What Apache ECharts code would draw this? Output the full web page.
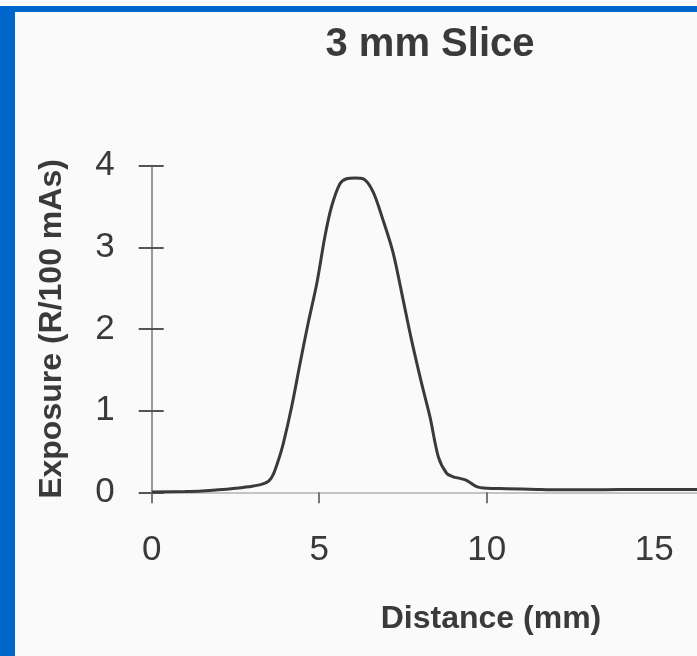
<!DOCTYPE html>
<html>
<head>
<meta charset="utf-8">
<script src="https://cdn.jsdelivr.net/npm/echarts@6/dist/echarts.min.js"></script>
<style>
html,body{margin:0;padding:0;background:#ffffff;}
#c{width:697px;height:656px;}
</style>
</head>
<body>
<div id="c"></div>
<script>
// Data
const distance = [0, 1, 1.5, 2, 2.5, 3, 3.3, 3.5, 3.63, 3.78, 3.93, 4.18, 4.43, 4.67, 4.93, 5.17, 5.37, 5.62, 5.82, 6.07, 6.32, 6.61, 6.91, 7.21, 7.51, 7.76, 8.06, 8.31, 8.56, 8.81, 9.0, 9.2, 9.4, 9.7, 10.0, 10.6, 11.5, 12.1, 13, 14, 15, 16.3];
const exposure = [0.005, 0.01, 0.016, 0.03, 0.05, 0.075, 0.1, 0.14, 0.22, 0.39, 0.6, 1.05, 1.58, 2.07, 2.56, 3.13, 3.5, 3.78, 3.84, 3.85, 3.84, 3.68, 3.33, 2.93, 2.35, 1.86, 1.33, 0.92, 0.43, 0.23, 0.19, 0.17, 0.147, 0.07, 0.05, 0.045, 0.035, 0.03, 0.03, 0.035, 0.035, 0.035];
const xTickLabels = [0, 5, 10, 15];
const xTickMarks = [0, 5, 10];
const yTicks = [0, 1, 2, 3, 4];
const chartTitle = '3 mm Slice';
const xTitle = 'Distance (mm)';
const yTitle = 'Exposure (R/100 mAs)';

const FONT = "'Liberation Sans', Arial, sans-serif";
const chart = echarts.init(document.getElementById('c'), null, {renderer: 'canvas'});
const labelStyle = {fontFamily: FONT, fontSize: 35, color: '#3a3a3a'};

const yBase = {
  type: 'value', min: 0, max: 4, interval: 1,
  splitLine: {show: false}
};

chart.setOption({
  backgroundColor: '#fafafa',
  animation: false,
  graphic: [
    {type: 'rect', shape: {x: 0, y: 0, width: 697, height: 6}, style: {fill: '#ffffff'}, silent: true, z: 100},
    {type: 'rect', shape: {x: 0, y: 6, width: 697, height: 6}, style: {fill: '#0066cc'}, silent: true, z: 100},
    {type: 'rect', shape: {x: 0, y: 6, width: 15, height: 650}, style: {fill: '#0066cc'}, silent: true, z: 100}
  ],
  title: [
    {text: chartTitle, left: 425, top: 20, textAlign: 'center',
     textStyle: {fontFamily: FONT, fontSize: 40, fontWeight: 'bold', color: '#3a3a3a'}},
    {text: xTitle, left: 486, top: 598, textAlign: 'center',
     textStyle: {fontFamily: FONT, fontSize: 32, fontWeight: 'bold', color: '#3a3a3a'}}
  ],
  grid: {left: 151.7, right: 0, top: 165.7, bottom: 163.7, containLabel: false},
  xAxis: {
    type: 'value', min: 0, max: 16.28, interval: 5,
    axisLine: {show: true, lineStyle: {color: '#c4c4c4', width: 2}},
    axisTick: {show: true, length: 11, customValues: xTickMarks, lineStyle: {color: '#777', width: 2}},
    axisLabel: Object.assign({margin: 41, customValues: xTickLabels, formatter: v => (xTickLabels.indexOf(v) >= 0 ? String(v) : '')}, labelStyle),
    splitLine: {show: false}
  },
  yAxis: [
    Object.assign({}, yBase, {
      name: yTitle, nameLocation: 'middle', nameRotate: 90, nameGap: 84,
      nameTextStyle: {fontFamily: FONT, fontSize: 32, fontWeight: 'bold', color: '#3a3a3a'},
      axisLine: {show: true, lineStyle: {color: '#999', width: 2}},
      axisTick: {show: true, length: 13, lineStyle: {color: '#555', width: 2}},
      axisLabel: Object.assign({margin: 37, formatter: v => (yTicks.indexOf(v) >= 0 ? String(v) : '')}, labelStyle)
    }),
    Object.assign({}, yBase, {
      position: 'left',
      axisLine: {show: false},
      axisTick: {show: true, inside: true, length: 12, lineStyle: {color: '#555', width: 2}},
      axisLabel: {show: false}
    })
  ],
  series: [{
    type: 'line',
    data: distance.map((d, i) => [d, exposure[i]]),
    showSymbol: false,
    smooth: 0.3,
    clip: false,
    lineStyle: {color: '#3a3a3a', width: 3},
    z: 5
  }]
});
</script>
</body>
</html>
